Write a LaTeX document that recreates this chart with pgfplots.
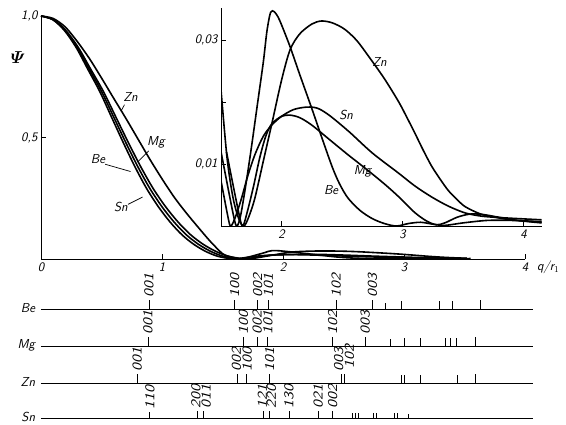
\documentclass[border=0pt]{standalone}
\usepackage{amsmath}
\usepackage{graphicx}
\usepackage{fontspec}
\usepackage{pgfplots}
\usepackage{pgfplotstable}
\pgfplotsset{compat=1.18}
\newcommand\lbl{\fontsize{13}{15}\selectfont\sffamily\itshape}
\newcommand\slbl{\fontsize{13.5}{16}\selectfont\sffamily\itshape}

\pgfplotstableread{
q psi
0 1.0
0.1 0.99
0.2 0.955
0.3 0.895
0.4 0.825
0.5 0.745
0.6 0.662
0.7 0.58
0.8 0.495
0.9 0.41
1.0 0.33
1.1 0.255
1.2 0.19
1.3 0.13
1.4 0.072
1.5 0.022
1.55 0.011
1.6 0.0045
1.65 0.001
1.69 0
1.73 0.0015
1.78 0.0045
1.85 0.0105
1.92 0.0165
2.0 0.0235
2.07 0.0284
2.15 0.031
2.25 0.0326
2.33 0.0331
2.42 0.0328
2.52 0.0318
2.62 0.0300
2.72 0.0274
2.85 0.0238
2.97 0.0200
3.04 0.0174
3.1 0.0151
3.17 0.0123
3.24 0.0097
3.31 0.0076
3.38 0.0057
3.45 0.0043
3.52 0.0031
3.65 0.0019
3.77 0.0014
3.9 0.001
4.15 0.0006
}\tabZn

\pgfplotstableread{
q psi
0 1.0
0.1 0.985
0.2 0.94
0.3 0.87
0.4 0.78
0.5 0.69
0.6 0.585
0.7 0.48
0.8 0.38
0.9 0.29
1.0 0.215
1.1 0.152
1.2 0.10
1.3 0.061
1.4 0.032
1.5 0.012
1.6 0.002
1.63 0
1.66 0.0015
1.70 0.006
1.75 0.0125
1.80 0.0195
1.85 0.0265
1.88 0.0315
1.91 0.0345
1.94 0.0346
1.97 0.0338
2.0 0.0325
2.07 0.029
2.15 0.0245
2.25 0.019
2.34 0.0139
2.42 0.0095
2.48 0.0068
2.55 0.0045
2.65 0.0025
2.75 0.0012
2.85 0.0004
2.95 0
3.05 0.0004
3.15 0.0006
3.25 0.0003
3.35 0.0001
3.5 0.0005
3.7 0.0009
3.9 0.0009
4.15 0.0007
}\tabBe

\pgfplotstableread{
q psi
0 1.0
0.103 0.985
0.206 0.94
0.309 0.87
0.412 0.78
0.515 0.69
0.618 0.585
0.721 0.48
0.824 0.38
0.927 0.29
1.03 0.215
1.133 0.152
1.236 0.10
1.339 0.061
1.442 0.032
1.545 0.012
1.648 0.002
1.68 0
1.72 0.0025
1.77 0.0065
1.82 0.011
1.87 0.0145
1.92 0.0165
2.0 0.0177
2.07 0.0179
2.15 0.0175
2.25 0.0163
2.40 0.0139
2.55 0.0115
2.70 0.0092
2.85 0.0068
2.97 0.0047
3.1 0.0022
3.2 0.0008
3.28 0.0002
3.35 0.0005
3.45 0.0014
3.55 0.0019
3.65 0.0019
3.8 0.0014
3.95 0.0009
4.15 0.0005
}\tabMg

\pgfplotstableread{
q psi
0 1.0
0.097 0.985
0.194 0.94
0.291 0.87
0.388 0.78
0.485 0.69
0.582 0.585
0.679 0.48
0.776 0.38
0.873 0.29
0.97 0.215
1.067 0.152
1.164 0.10
1.261 0.061
1.358 0.032
1.455 0.012
1.552 0.002
1.58 0
1.62 0.0015
1.67 0.0045
1.72 0.008
1.78 0.0115
1.85 0.0145
1.92 0.0163
2.0 0.0177
2.1 0.0188
2.21 0.0192
2.3 0.019
2.4 0.0178
2.56 0.0152
2.75 0.0118
2.97 0.0085
3.1 0.0065
3.24 0.0047
3.38 0.0032
3.52 0.0021
3.65 0.0016
3.77 0.0014
3.95 0.0012
4.15 0.001
}\tabSn

% stick (reflection) tables: x, base y (pt from bottom), height
\pgfplotstableread{
x y h
0.893 115 9
1.60 115 9
1.79 115 9
1.88 115 9
2.44 115 9
2.74 115 9
2.85 115 6
2.98 115 8
3.29 115 8
3.40 115 8
3.63 115 9
}\stBe
\pgfplotstableread{
x y h
0.884 78 9
1.673 78 9
1.786 78 9
1.875 78 9
2.41 78 9
2.68 78 9
2.89 78 7
3.00 78 8
3.14 78 8
3.34 78 8
3.38 78 8
3.43 78 8
3.59 78 9
}\stMg
\pgfplotstableread{
x y h
0.795 41 9
1.62 41 9
1.70 41 9
1.89 41 9
2.48 41 9
2.51 41 9
2.98 41 8
3.00 41 8
3.14 41 8
3.44 41 8
3.59 41 9
}\stZn
\pgfplotstableread{
x y h
0.90 6 6
1.29 6 7
1.345 6 7
1.84 6 7
1.89 6 7
2.05 6 7
2.29 6 7
2.41 6 7
2.57 6 5
2.60 6 5
2.625 6 5
2.75 6 5
2.77 6 5
2.92 6 5
2.95 6 5
3.04 6 4
}\stSn

\newcommand\hk[3]{\node[rotate=90,anchor=west,font=\slbl,inner sep=1pt] at (axis cs:#1,#2) {\scalebox{1.2}[1]{#3}};}

\begin{document}
\begin{tikzpicture}
\useasboundingbox (0,0) rectangle (566pt,424pt);

% ---------- main axis ----------
\begin{axis}[
  at={(41pt,165pt)}, anchor=south west, scale only axis,
  width=484pt, height=243pt,
  xmin=0, xmax=4, ymin=0, ymax=1,
  axis lines=left, axis line style={-, line width=0.9pt},
  tick align=inside, major tick length=5pt,
  tick style={line width=0.8pt, black},
  xtick={0,1,2,3,4}, xticklabels={0,1,2,3,4},
  ytick={0.5,1}, yticklabels={{0,5},{1,0}},
  ticklabel style={font=\lbl},
  clip=false,
]
\addplot[black, line width=1.6pt, smooth, tension=0.5, restrict x to domain=0:3.55] table[x=q,y=psi]{\tabZn};
\addplot[black, line width=1.6pt, smooth, tension=0.5, restrict x to domain=0:3.55] table[x=q,y=psi]{\tabMg};
\addplot[black, line width=1.6pt, smooth, tension=0.5, restrict x to domain=0:3.55] table[x=q,y=psi]{\tabBe};
\addplot[black, line width=1.6pt, smooth, tension=0.5, restrict x to domain=0:3.55] table[x=q,y=psi]{\tabSn};
\node[font=\lbl] at (axis cs:0.74,0.667) {Zn};
\draw[line width=0.7pt] (axis cs:0.69,0.635) -- (axis cs:0.665,0.612);
\node[font=\lbl] at (axis cs:0.95,0.48) {Mg};
\draw[line width=0.7pt] (axis cs:0.89,0.445) -- (axis cs:0.80,0.40);
\node[font=\lbl] at (axis cs:0.47,0.41) {Be};
\draw[line width=0.7pt] (axis cs:0.53,0.39) -- (axis cs:0.74,0.36);
\node[font=\lbl] at (axis cs:0.66,0.214) {Sn};
\draw[line width=0.7pt] (axis cs:0.72,0.225) -- (axis cs:0.84,0.255);
\node[font=\fontsize{18}{20}\selectfont] at (axis cs:-0.19,0.83) {$\boldsymbol{\varPsi}$};
\node[font=\lbl, anchor=west] at (axis cs:4.07,-0.035) {q/r$_1$};
\end{axis}

% ---------- inset ----------
\begin{axis}[
  at={(221pt,198pt)}, anchor=south west, scale only axis,
  width=320.6pt, height=218pt,
  xmin=1.5, xmax=4.15, ymin=0, ymax=0.0352,
  axis lines=left, axis line style={-, line width=0.9pt},
  tick align=inside, major tick length=5pt,
  tick style={line width=0.8pt, black},
  xtick={2,3,4}, xticklabels={2,3,4},
  ytick={0.01,0.02,0.03}, yticklabels={{0,01},{},{0,03}},
  scaled y ticks=false,
  ticklabel style={font=\lbl},
]
\addplot[black, line width=1.6pt, smooth, tension=0.5, restrict x to domain=1.45:4.2] table[x=q,y=psi]{\tabZn};
\addplot[black, line width=1.6pt, smooth, tension=0.5, restrict x to domain=1.45:4.2] table[x=q,y=psi]{\tabMg};
\addplot[black, line width=1.6pt, smooth, tension=0.5, restrict x to domain=1.45:4.2] table[x=q,y=psi]{\tabBe};
\addplot[black, line width=1.6pt, smooth, tension=0.5, restrict x to domain=1.45:4.2] table[x=q,y=psi]{\tabSn};
\node[font=\lbl] at (axis cs:2.81,0.0265) {Zn};
\node[font=\lbl] at (axis cs:2.535,0.018) {Sn};
\node[font=\lbl] at (axis cs:2.67,0.0088) {Mg};
\node[font=\lbl] at (axis cs:2.41,0.0058) {Be};
\end{axis}

% ---------- reflection sticks ----------
\begin{axis}[
  at={(41pt,0pt)}, anchor=south west, scale only axis,
  width=484pt, height=424pt,
  xmin=0, xmax=4, ymin=0, ymax=424,
  hide axis, clip=false,
]
\addplot[black, line width=0.9pt] coordinates {(0.0,115) (4.07,115)};
\addplot[black, line width=0.9pt] coordinates {(0.0,78) (4.07,78)};
\addplot[black, line width=0.9pt] coordinates {(0.0,41) (4.07,41)};
\addplot[black, line width=0.9pt] coordinates {(0.0,6) (4.07,6)};
\addplot[black, line width=0.9pt, quiver={u=0, v=\thisrow{h}}] table[x=x,y=y]{\stBe};
\addplot[black, line width=0.9pt, quiver={u=0, v=\thisrow{h}}] table[x=x,y=y]{\stMg};
\addplot[black, line width=0.9pt, quiver={u=0, v=\thisrow{h}}] table[x=x,y=y]{\stZn};
\addplot[black, line width=0.9pt, quiver={u=0, v=\thisrow{h}}] table[x=x,y=y]{\stSn};
\node[font=\lbl, anchor=east] at (axis cs:-0.02,116) {Be};
\node[font=\lbl, anchor=east] at (axis cs:-0.02,79) {Mg};
\node[font=\lbl, anchor=east] at (axis cs:-0.02,42) {Zn};
\node[font=\lbl, anchor=east] at (axis cs:-0.02,7) {Sn};
% Be
\hk{0.893}{125}{001}\hk{1.60}{125}{100}\hk{1.79}{125}{002}\hk{1.88}{125}{101}\hk{2.44}{125}{102}\hk{2.74}{125}{003}
% Mg
\hk{0.884}{88}{001}\hk{1.673}{88}{100}\hk{1.786}{88}{002}\hk{1.875}{88}{101}\hk{2.41}{88}{102}\hk{2.68}{88}{003}
% Zn
\hk{0.795}{51}{001}\hk{1.615}{51}{002}\hk{1.705}{51}{100}\hk{1.89}{51}{101}\hk{2.46}{51}{003}\hk{2.55}{54}{102}
% Sn
\hk{0.90}{13}{110}\hk{1.28}{14}{200}\hk{1.365}{14}{011}\hk{1.83}{14}{121}\hk{1.905}{14}{220}\hk{2.05}{14}{130}\hk{2.29}{14}{021}\hk{2.41}{14}{002}
\end{axis}
\end{tikzpicture}
\end{document}
